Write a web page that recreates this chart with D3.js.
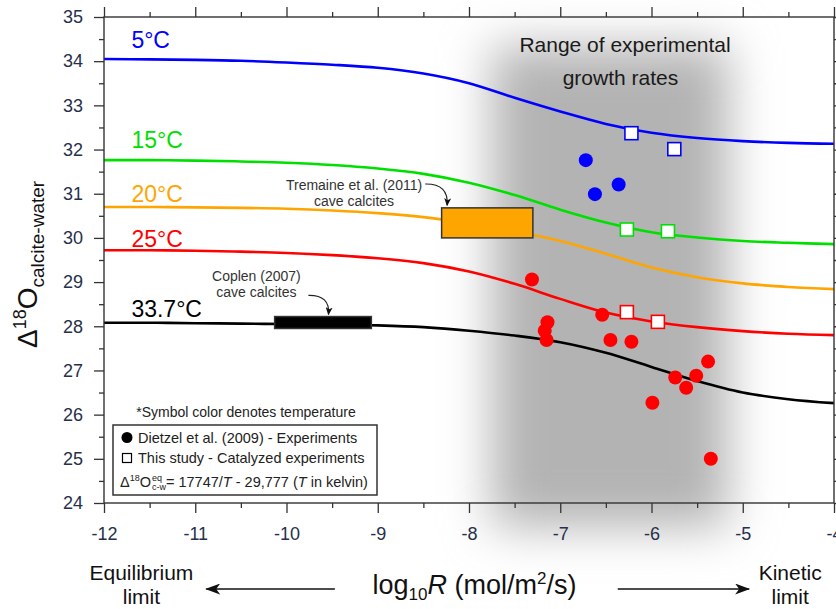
<!DOCTYPE html>
<html>
<head>
<meta charset="utf-8">
<script src="https://cdn.jsdelivr.net/npm/d3@7"></script>
<style>
  body { margin: 0; background: #fff; }
  svg { display: block; font-family: 'Liberation Sans', Arial, sans-serif; }
</style>
</head>
<body>
<div id="chart"></div>
<script>
// growth rate grid (log10 R) and model curves
const logR = [-12, -11.5, -11, -10.5, -10, -9.5, -9, -8.5, -8, -7.5, -7, -6.5, -6, -5.5, -5, -4.5, -4]
const curve5 = [34.05, 34.04, 34.03, 34.01, 33.97, 33.92, 33.85, 33.72, 33.50, 33.17, 32.86, 32.58, 32.38, 32.26, 32.19, 32.15, 32.13]
const curve15 = [31.76, 31.76, 31.75, 31.73, 31.70, 31.65, 31.57, 31.45, 31.25, 30.97, 30.64, 30.35, 30.13, 30.01, 29.93, 29.89, 29.86]
const curve20 = [30.70, 30.70, 30.69, 30.68, 30.66, 30.62, 30.56, 30.47, 30.33, 30.15, 29.93, 29.64, 29.33, 29.11, 28.97, 28.89, 28.84]
const curve25 = [29.72, 29.72, 29.71, 29.69, 29.66, 29.61, 29.54, 29.43, 29.24, 28.96, 28.62, 28.31, 28.11, 27.98, 27.89, 27.83, 27.80]
const curve337 = [28.08, 28.08, 28.07, 28.06, 28.05, 28.04, 28.02, 27.98, 27.90, 27.79, 27.64, 27.40, 27.08, 26.76, 26.50, 26.35, 26.26]

const temps = ['5°C', '15°C', '20°C', '25°C', '33.7°C']
const tempColors = ['#0000ff', '#00e000', '#ffa500', '#ff0000', '#000000']
const tempLabelY = [34.30, 32.03, 30.81, 29.79, 28.21]

// Dietzel et al. (2009) experiments  [log10 R, D18O]
const dietzel5 = [[-6.72, 31.76], [-6.62, 30.99], [-6.36, 31.21]]
const dietzel25 = [[-7.31, 29.06], [-7.14, 28.09], [-7.17, 27.90], [-7.15, 27.69], [-6.54, 28.26],
  [-6.45, 27.69], [-6.22, 27.65], [-5.38, 27.20], [-5.74, 26.84], [-5.51, 26.88],
  [-5.62, 26.61], [-5.99, 26.27], [-5.35, 25.00]]
// this study, catalyzed experiments
const study5 = [[-6.22, 32.37], [-5.75, 32.01]]
const study15 = [[-6.27, 30.19], [-5.82, 30.15]]
const study25 = [[-6.27, 28.32], [-5.93, 28.10]]

// cave calcite ranges [xmin, xmax, ymin, ymax]
const tremaineBox = [-8.30, -7.30, 30.00, 30.68]
const coplenBox = [-10.13, -9.07, 27.95, 28.22]
// range of experimental growth rates [xmin, xmax, ymin, ymax]
const growthRange = [-7.75, -5.16, 23.45, 34.35]

const xTicks = d3.range(-12, -3, 1)
const xMinor = d3.range(-11.5, -4, 1)
const yTicks = d3.range(24, 36, 1)
const yMinor = d3.range(24.5, 35, 1)

const width = 836
const height = 609
const svg = d3.select('#chart').append('svg')
  .attr('width', width)
  .attr('height', height)

const x = d3.scaleLinear().domain([-12, -4]).range([104, 834])
const y = d3.scaleLinear().domain([24, 35]).range([503, 17])

const defs = svg.append('defs')
defs.append('filter')
  .attr('id', 'blur')
  .attr('x', '-60%').attr('y', '-30%')
  .attr('width', '220%').attr('height', '160%')
  .append('feGaussianBlur')
  .attr('stdDeviation', 24)

const addHead = (id, path, w, h, rx) => defs.append('marker')
  .attr('id', id)
  .attr('viewBox', `0 ${-h / 2} ${w} ${h}`)
  .attr('refX', rx)
  .attr('refY', 0)
  .attr('markerWidth', w)
  .attr('markerHeight', h)
  .attr('markerUnits', 'userSpaceOnUse')
  .attr('orient', 'auto')
  .append('path')
  .attr('d', path)
  .attr('fill', '#111')
addHead('bigHead', 'M0,-5.5L15,0L0,5.5L4,0Z', 15, 11, 14)
addHead('smallHead', 'M0,-3.5L8,0L0,3.5L2,0Z', 8, 7, 7)

// grey band
svg.append('rect')
  .attr('x', x(growthRange[0]))
  .attr('width', x(growthRange[1]) - x(growthRange[0]))
  .attr('y', y(growthRange[3]))
  .attr('height', y(growthRange[2]) - y(growthRange[3]))
  .attr('fill', '#b3b3b3')
  .attr('filter', 'url(#blur)')

svg.append('text')
  .attr('x', x(-6.29))
  .attr('y', y(34.2))
  .attr('text-anchor', 'middle')
  .attr('font-size', 21)
  .attr('fill', '#1a1a1a')
  .text('Range of experimental')
svg.append('text')
  .attr('x', x(-6.34))
  .attr('y', y(33.45))
  .attr('text-anchor', 'middle')
  .attr('font-size', 21)
  .attr('fill', '#1a1a1a')
  .text('growth rates')

// model curves
const line = d3.line()
  .x(d => x(d[0]))
  .y(d => y(d[1]))
  .curve(d3.curveCatmullRom)

const curves = [curve5, curve15, curve20, curve25, curve337]
curves.forEach((c, i) => {
  svg.append('path')
    .datum(logR.map((r, j) => [r, c[j]]))
    .attr('d', line)
    .attr('fill', 'none')
    .attr('stroke', tempColors[i])
    .attr('stroke-width', 2.6)
})

temps.forEach((t, i) => {
  svg.append('text')
    .attr('x', x(-11.7))
    .attr('y', y(tempLabelY[i]))
    .attr('font-size', 23)
    .attr('fill', tempColors[i])
    .text(t)
})

// cave calcite boxes
const drawBox = (b, fill) => svg.append('rect')
  .attr('x', x(b[0]))
  .attr('y', y(b[3]))
  .attr('width', x(b[1]) - x(b[0]))
  .attr('height', y(b[2]) - y(b[3]))
  .attr('fill', fill)
  .attr('stroke', '#333')
  .attr('stroke-width', 1.5)
drawBox(tremaineBox, '#ffa500')
drawBox(coplenBox, '#000')

const note = (cx, cy, lines) => lines.forEach((l, i) => svg.append('text')
  .attr('x', x(cx))
  .attr('y', y(cy) + i * 16)
  .attr('text-anchor', 'middle')
  .attr('font-size', 14)
  .attr('fill', '#333')
  .text(l))
note(-9.26, 31.08, ['Tremaine et al. (2011)', 'cave calcites'])
note(-10.33, 29.02, ['Coplen (2007)', 'cave calcites'])

const curl = (a, b, c) => svg.append('path')
  .attr('d', `M${x(a[0])},${y(a[1])}Q${x(b[0])},${y(b[1])} ${x(c[0])},${y(c[1])}`)
  .attr('fill', 'none')
  .attr('stroke', '#222')
  .attr('stroke-width', 1.2)
  .attr('marker-end', 'url(#smallHead)')
curl([-8.48, 31.22], [-8.22, 31.23], [-8.24, 30.74])
curl([-9.76, 28.70], [-9.52, 28.71], [-9.54, 28.27])

// markers
const dots = (data, color) => svg.append('g')
  .selectAll('circle')
  .data(data)
  .enter()
  .append('circle')
  .attr('cx', d => x(d[0]))
  .attr('cy', d => y(d[1]))
  .attr('r', 7)
  .attr('fill', color)
dots(dietzel5, tempColors[0])
dots(dietzel25, tempColors[3])

const squares = (data, color) => svg.append('g')
  .selectAll('rect')
  .data(data)
  .enter()
  .append('rect')
  .attr('x', d => x(d[0]) - 6.5)
  .attr('y', d => y(d[1]) - 6.5)
  .attr('width', 13)
  .attr('height', 13)
  .attr('fill', '#fff')
  .attr('stroke', color)
  .attr('stroke-width', 1.6)
squares(study5, tempColors[0])
squares(study15, tempColors[1])
squares(study25, tempColors[3])

// frame and axes
svg.append('rect')
  .attr('x', x(-12))
  .attr('y', y(35))
  .attr('width', x(-4) - x(-12))
  .attr('height', y(24) - y(35))
  .attr('fill', 'none')
  .attr('stroke', '#333')
  .attr('stroke-width', 1.4)

const styleAxis = g => {
  g.select('.domain').remove()
  g.selectAll('line').attr('stroke', '#333').attr('stroke-width', 1.3)
  g.selectAll('text')
    .attr('font-family', "'Liberation Sans', Arial, sans-serif")
    .attr('font-size', 18)
    .attr('fill', '#26304a')
}
const fmt = d => String(d)

svg.append('g').attr('transform', `translate(0,${y(24)})`)
  .call(d3.axisBottom(x).tickValues(xTicks).tickSize(10).tickPadding(14).tickFormat(fmt)).call(styleAxis)
svg.append('g').attr('transform', `translate(0,${y(24)})`)
  .call(d3.axisBottom(x).tickValues(xMinor).tickSize(5).tickFormat('')).call(styleAxis)
svg.append('g').attr('transform', `translate(0,${y(35)})`)
  .call(d3.axisTop(x).tickValues(xTicks).tickSize(10).tickFormat('')).call(styleAxis)
svg.append('g').attr('transform', `translate(0,${y(35)})`)
  .call(d3.axisTop(x).tickValues(xMinor).tickSize(5).tickFormat('')).call(styleAxis)
svg.append('g').attr('transform', `translate(${x(-12)},0)`)
  .call(d3.axisLeft(y).tickValues(yTicks).tickSize(10).tickPadding(11).tickFormat(fmt)).call(styleAxis)
svg.append('g').attr('transform', `translate(${x(-12)},0)`)
  .call(d3.axisLeft(y).tickValues(yMinor).tickSize(5).tickFormat('')).call(styleAxis)
svg.append('g').attr('transform', `translate(${x(-4)},0)`)
  .call(d3.axisRight(y).tickValues(yTicks).tickSize(10).tickFormat('')).call(styleAxis)
svg.append('g').attr('transform', `translate(${x(-4)},0)`)
  .call(d3.axisRight(y).tickValues(yMinor).tickSize(5).tickFormat('')).call(styleAxis)

// y title
const yTitle = svg.append('text')
  .attr('transform', `translate(37,${y(29.4)}) rotate(-90)`)
  .attr('text-anchor', 'middle')
  .attr('font-size', 28)
  .attr('fill', '#111')
yTitle.append('tspan').text('Δ')
yTitle.append('tspan').attr('font-size', 18).attr('dy', -11).text('18')
yTitle.append('tspan').attr('dy', 11).text('O')
yTitle.append('tspan').attr('font-size', 19).attr('dy', 7).text('calcite-water')

// x title
const xTitle = svg.append('text')
  .attr('x', x(-7.94))
  .attr('y', 594)
  .attr('text-anchor', 'middle')
  .attr('font-size', 27)
  .attr('fill', '#111')
xTitle.append('tspan').text('log')
xTitle.append('tspan').attr('font-size', 17).attr('dy', 6).text('10')
xTitle.append('tspan').attr('dy', -6).attr('font-style', 'italic').text('R')
xTitle.append('tspan').text(' (mol/m')
xTitle.append('tspan').attr('font-size', 17).attr('dy', -10).text('2')
xTitle.append('tspan').attr('dy', 10).text('/s)')

const sideLabel = (cx, lines) => lines.forEach((l, i) => svg.append('text')
  .attr('x', x(cx))
  .attr('y', 580 + i * 24)
  .attr('text-anchor', 'middle')
  .attr('font-size', 21)
  .attr('fill', '#111')
  .text(l))
sideLabel(-11.59, ['Equilibrium', 'limit'])
sideLabel(-4.48, ['Kinetic', 'limit'])

svg.append('line')
  .attr('x1', x(-9.47)).attr('x2', x(-10.88))
  .attr('y1', 589).attr('y2', 589)
  .attr('stroke', '#111').attr('stroke-width', 1.3)
  .attr('marker-end', 'url(#bigHead)')
svg.append('line')
  .attr('x1', x(-6.37)).attr('x2', x(-4.93))
  .attr('y1', 589).attr('y2', 589)
  .attr('stroke', '#111').attr('stroke-width', 1.3)
  .attr('marker-end', 'url(#bigHead)')

// legend
svg.append('text')
  .attr('x', 246)
  .attr('y', 417)
  .attr('text-anchor', 'middle')
  .attr('font-size', 14)
  .attr('fill', '#222')
  .text('*Symbol color denotes temperature')

const legend = svg.append('g')
legend.append('rect')
  .attr('x', 113).attr('y', 425)
  .attr('width', 264).attr('height', 70)
  .attr('fill', '#fff')
  .attr('stroke', '#333')
  .attr('stroke-width', 1.5)
legend.append('circle').attr('cx', 127).attr('cy', 437.5).attr('r', 5.5).attr('fill', '#000')
legend.append('rect').attr('x', 122.5).attr('y', 453.5).attr('width', 9).attr('height', 9)
  .attr('fill', '#fff').attr('stroke', '#000').attr('stroke-width', 1.2)
legend.append('text').attr('x', 138).attr('y', 443).attr('font-size', 14.5).attr('fill', '#222')
  .text('Dietzel et al. (2009) - Experiments')
legend.append('text').attr('x', 138).attr('y', 463).attr('font-size', 14.5).attr('fill', '#222')
  .text('This study - Catalyzed experiments')

const fBase = 487
const f1 = legend.append('text').attr('x', 120).attr('y', fBase).attr('font-size', 14.5).attr('fill', '#222')
f1.append('tspan').text('Δ')
f1.append('tspan').attr('font-size', 9).attr('dy', -6).text('18')
f1.append('tspan').attr('dy', 6).text('O')
const fx = 120 + f1.node().getComputedTextLength() + 1
legend.append('text').attr('x', fx).attr('y', fBase - 6).attr('font-size', 9).attr('fill', '#222').text('eq')
const cw = legend.append('text').attr('x', fx).attr('y', fBase + 3).attr('font-size', 9).attr('fill', '#222').text('c-w')
const f2 = legend.append('text')
  .attr('x', fx + cw.node().getComputedTextLength())
  .attr('y', fBase)
  .attr('font-size', 14.5)
  .attr('fill', '#222')
f2.append('tspan').text('= 17747/')
f2.append('tspan').attr('font-style', 'italic').text('T')
f2.append('tspan').text(' - 29,777 (')
f2.append('tspan').attr('font-style', 'italic').text('T')
f2.append('tspan').text(' in kelvin)')
</script>
</body>
</html>
